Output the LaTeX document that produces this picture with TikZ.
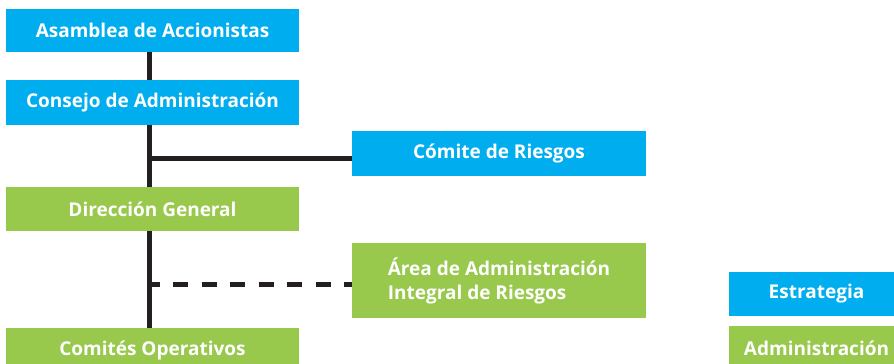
\documentclass[tikz,border=0pt]{standalone}
\usepackage{fontspec}
\setmainfont{Open Sans}
\definecolor{cblue}{HTML}{00AEEF}
\definecolor{cgreen}{HTML}{98C84C}
\definecolor{cline}{HTML}{231F20}
\begin{document}
\begin{tikzpicture}[x=1pt,y=-1pt,
  box/.style={draw=none,inner sep=0pt,text=white,minimum width=293pt,
    font=\bfseries\fontsize{19}{24}\selectfont},
  bluebox/.style={box,fill=cblue},
  greenbox/.style={box,fill=cgreen},
  conn/.style={draw=cline,line width=5pt},
  dconn/.style={draw=cline,line width=5pt,dash pattern=on 15pt off 13.5pt,dash phase=5pt}]
\useasboundingbox (0,0) rectangle (894,364);
\begin{scope}
\clip (0,0) rectangle (894,364);
\node[bluebox,minimum height=43pt] (asamblea) at (152.5,30.5) {Asamblea de Accionistas};
\node[bluebox,minimum height=45pt] (consejo) at (152.5,102.5) {Consejo de Administración};
\node[bluebox,minimum height=45pt,minimum width=294pt] (comite) at (499,153.5) {Cómite de Riesgos};
\node[greenbox,minimum height=44pt] (direccion) at (152.5,209) {Dirección General};
\node[greenbox,minimum height=75pt,minimum width=294pt,align=left] (area) at (499,280.5) {Área de Administración\\Integral de Riesgos};
\node[greenbox,minimum height=44pt] (comites) at (152.5,350) {Comités Operativos};
\node[bluebox,minimum height=44pt,minimum width=175pt] (estrategia) at (816.5,294) {Estrategia};
\node[greenbox,minimum height=44pt,minimum width=175pt] (admin) at (816.5,348) {Administración};
\end{scope}
\coordinate (sp) at (149.5,0);
\coordinate (hb) at (149.5,158);
\coordinate (hd) at (149.5,284);
\draw[conn] (asamblea.south -| sp) -- (consejo.north -| sp);
\draw[conn] (consejo.south -| sp) -- (direccion.north -| sp);
\draw[conn] (direccion.south -| sp) -- (comites.north -| sp);
\draw[conn] (hb) -- (hb -| comite.west);
\draw[dconn] (hd) -- (hd -| area.west);
\end{tikzpicture}
\end{document}
